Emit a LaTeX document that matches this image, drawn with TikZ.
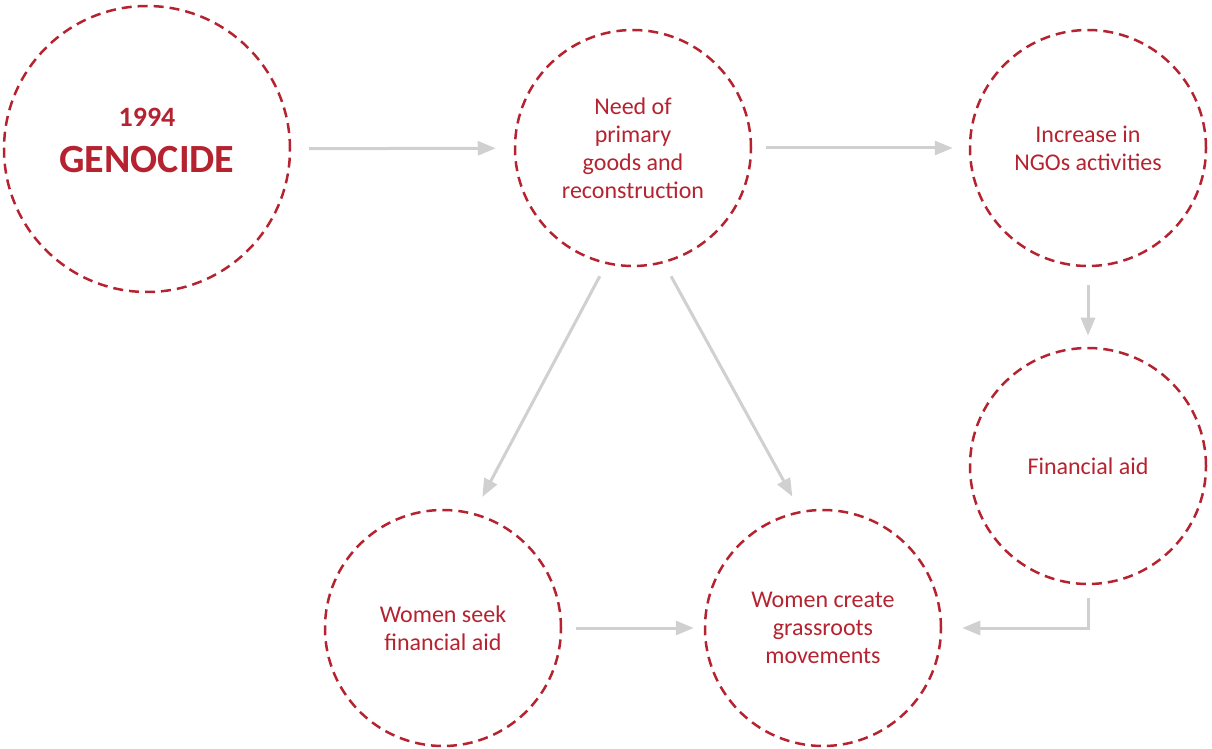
\documentclass[tikz,border=0pt]{standalone}
\usepackage{fontspec}
\setmainfont{Carlito}
\usetikzlibrary{arrows.meta}
\definecolor{darkred}{RGB}{181,35,48}
\definecolor{arrowgray}{RGB}{208,208,208}
\begin{document}
\begin{tikzpicture}[x=0.5pt,y=-0.5pt,
    bubble/.style={circle,draw=darkred,line width=1.25pt,dash pattern=on 5pt off 3pt,
        minimum size=118pt,inner sep=0pt,text=darkred,align=center,
        font=\fontsize{12}{14}\selectfont},
    flow/.style={draw=arrowgray,line width=1.5pt,-{Triangle[length=9pt,width=7pt]}}]
    \useasboundingbox (0,0) rectangle (1212,749);
    % Circles
    \node [bubble,minimum size=143pt] (genocide) at (147,149) {};
    \node [text=darkred,align=center,font=\bfseries\fontsize{20}{23}\selectfont] (genocidetext) at (147,140)
        {{\fontsize{14}{23}\selectfont 1994}\\GENOCIDE};
    \node [bubble] (need) at (633,148) {Need of\\primary\\goods and\\reconstruction};
    \node [bubble] (ngo) at (1088,148) {Increase in\\NGOs activities};
    \node [bubble] (finance) at (1088,466) {Financial aid};
    \node [bubble] (seek) at (443,628) {Women seek\\financial aid};
    \node [bubble] (create) at (823,628) {Women create\\grassroots\\movements};

    % Arrows
    \draw [flow,shorten <=9pt,shorten >=9pt] (genocide) -- (need);
    \draw [flow,shorten <=7pt,shorten >=8pt] (need) -- (ngo);
    \draw [flow,shorten <=9pt,shorten >=5.5pt] (ngo) -- (finance);
    \draw [flow,shorten <=6.8pt,shorten >=9pt] (need.257) -- (seek.75.5);
    \draw [flow,shorten <=7.5pt,shorten >=8.2pt] (need.285.2) -- (create.101.8);
    \draw [flow,shorten <=7pt,shorten >=5pt] (seek) -- (create);
    \draw [flow,shorten <=6.5pt,shorten >=10pt] (finance.south) |- (create.east);
\end{tikzpicture}
\end{document}
